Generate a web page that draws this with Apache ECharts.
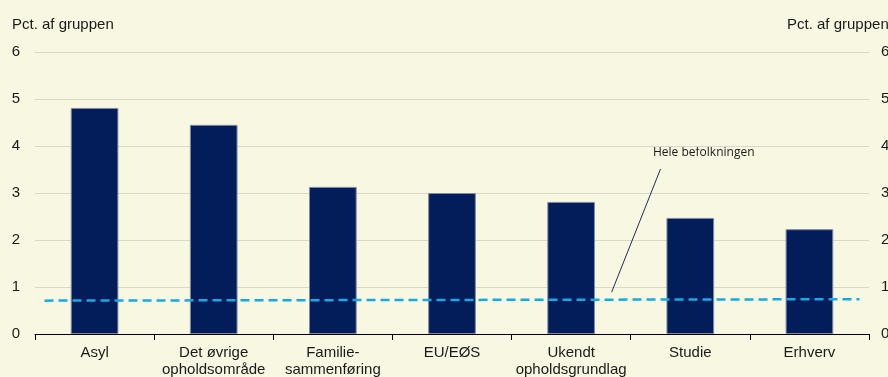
<!DOCTYPE html>
<html><head><meta charset="utf-8">
<script src="https://cdn.jsdelivr.net/npm/echarts@6/dist/echarts.min.js"></script>
<style>html,body{margin:0;padding:0;background:#F8F7E1;}#c{width:888px;height:377px;}</style>
</head><body><div id="c"></div>
<script>
const categories = ['Asyl', 'Det øvrige\nopholdsområde', 'Familie-\nsammenføring', 'EU/EØS', 'Ukendt\nopholdsgrundlag', 'Studie', 'Erhverv'];
const values = [4.81, 4.45, 3.13, 3.0, 2.81, 2.47, 2.23];
const refLineX = [0.08, 6.92];
const refLineY = [0.71, 0.74];
const leaderX = [4.84, 5.25];
const leaderY = [0.89, 3.51];
const yTicks = [0, 1, 2, 3, 4, 5, 6];
const axisName = 'Pct. af gruppen';
const annotation = 'Hele befolkningen';

const chart = echarts.init(document.getElementById('c'), null, {renderer: 'canvas'});
const font = 'Liberation Sans, Arial, sans-serif';
chart.setOption({
  backgroundColor: '#F8F7E1',
  animation: false,
  grid: {left: 35, right: 19, top: 52, bottom: 43, containLabel: false, outerBoundsMode: 'none'},
  xAxis: [{
    type: 'category', data: categories,
    axisLine: {lineStyle: {color: '#000', width: 1.2}},
    axisTick: {show: true, length: 6, lineStyle: {color: '#000'}},
    axisLabel: {color: '#1a1a1a', fontFamily: font, fontSize: 15, lineHeight: 17, margin: 10, interval: 0}
  }, {
    type: 'value', min: 0, max: 7, show: false
  }],
  yAxis: [{
    type: 'value', min: yTicks[0], max: yTicks[yTicks.length - 1], interval: 1,
    axisLine: {show: false}, axisTick: {show: false},
    splitLine: {lineStyle: {color: '#DAD8C6', width: 1}},
    axisLabel: {color: '#1a1a1a', fontFamily: font, fontSize: 15, margin: 15}
  }, {
    type: 'value', position: 'right', min: yTicks[0], max: yTicks[yTicks.length - 1], interval: 1,
    axisLine: {show: false}, axisTick: {show: false}, splitLine: {show: false},
    axisLabel: {color: '#1a1a1a', fontFamily: font, fontSize: 15, margin: 12, align: 'left'}
  }],
  series: [{
    type: 'bar', data: values, barWidth: '40%',
    itemStyle: {color: '#031D5A', borderColor: '#7F8BA3', borderWidth: 1},
    silent: true
  }, {
    type: 'line', xAxisIndex: 1, yAxisIndex: 0,
    data: refLineX.map((x, i) => [x, refLineY[i]]),
    symbol: 'none', lineStyle: {color: '#16A9E6', width: 2.5, type: [9, 5]}, silent: true
  }, {
    type: 'line', xAxisIndex: 1, yAxisIndex: 0,
    data: leaderX.map((x, i) => [x, leaderY[i]]),
    symbol: 'none', lineStyle: {color: '#1F2D5E', width: 1}, silent: true
  }],
  graphic: [
    {type: 'text', left: 12, top: 17, style: {text: axisName, font: '15px ' + font, fill: '#1a1a1a'}},
    {type: 'text', left: 787, top: 17, style: {text: axisName, font: '15px ' + font, fill: '#1a1a1a'}},
    {type: 'text', left: 653, top: 147, style: {text: annotation, font: '12px "Open Sans", sans-serif', fill: '#1a1a1a'}}
  ]
});
</script></body></html>
